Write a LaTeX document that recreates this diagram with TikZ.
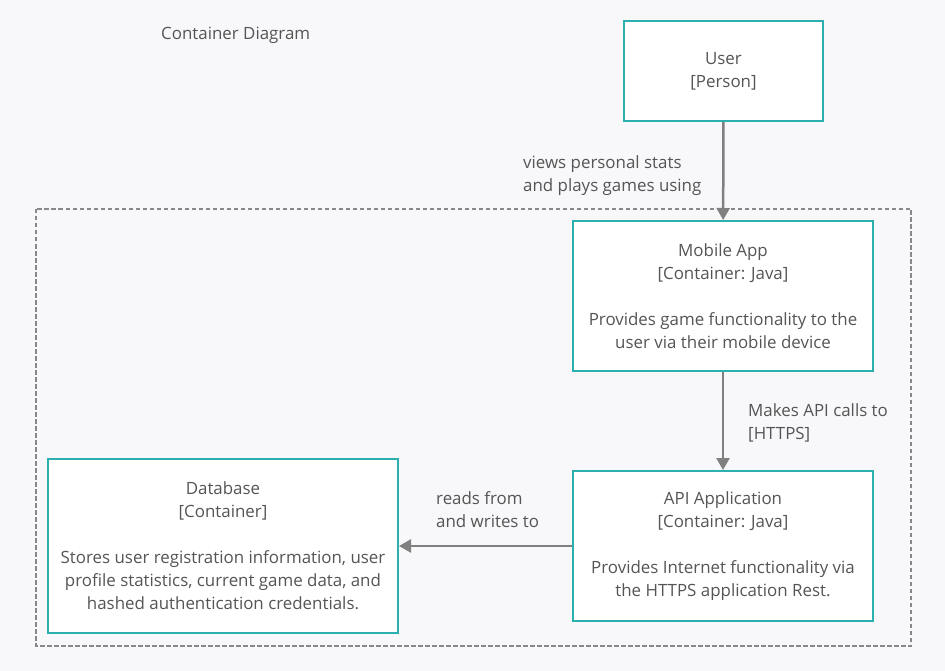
\documentclass[tikz,border=0pt]{standalone}
\usepackage{fontspec}
\setmainfont{Open Sans}
\usetikzlibrary{arrows.meta}

\definecolor{bgcol}{HTML}{F8F8FA}
\definecolor{tealcol}{HTML}{2BB0AF}
\definecolor{textcol}{HTML}{555555}
\definecolor{arrowcol}{HTML}{808080}
\definecolor{dashcol}{HTML}{888888}

\begin{document}
\begin{tikzpicture}[x=1pt, y=-1pt,
    every node/.style={font=\fontsize{16.9}{23}\selectfont, text=textcol},
    box/.style={draw=tealcol, line width=2pt, fill=white, align=center, inner sep=0pt},
    rel/.style={draw=arrowcol, line width=2.5pt, -{Triangle[width=13pt,length=12pt]}},
    lbl/.style={anchor=west, align=left, inner sep=0pt}]
    \useasboundingbox [fill=bgcol] (0, 0) rectangle (945, 671);

    % Title
    \path (161, 35) node [anchor=west, inner sep=0pt] (title) {Container Diagram};

    % Boundary
    \draw [dashcol, line width=2pt, dash pattern=on 4.5pt off 2.5pt]
          (36, 209) rectangle (911, 646);

    % Person
    \path (723.5, 71) node [box, minimum width=199pt, minimum height=100pt]
          (user) {User\\{[Person]}};

    % Containers
    \path (723, 296) node [box, minimum width=300pt, minimum height=150pt]
          (mobile) {Mobile App\\{[Container: Java]}\\[23pt]
                    Provides game functionality to the\\user via their mobile device};
    \path (723, 546) node [box, minimum width=300pt, minimum height=150pt]
          (api) {API Application\\{[Container: Java]}\\[23pt]
                 Provides Internet functionality via\\the HTTPS application Rest.};
    \path (223, 546) node [box, minimum width=350pt, minimum height=174pt]
          (db) {Database\\{[Container]}\\[23pt]
                Stores user registration information, user\\
                profile statistics, current game data, and\\
                hashed authentication credentials.};

    % Relations
    \draw [rel] (user) -- (mobile);
    \path (523, 175.5) node [lbl] (l1) {views personal stats\\and plays games using};
    \draw [rel] (mobile) -- (api);
    \path (748, 422.5) node [lbl] (l2) {Makes API calls to\\{[HTTPS]}};
    \draw [rel] (api) -- (db);
    \path (436, 509.5) node [lbl] (l3) {reads from\\and writes to};
\end{tikzpicture}
\end{document}
